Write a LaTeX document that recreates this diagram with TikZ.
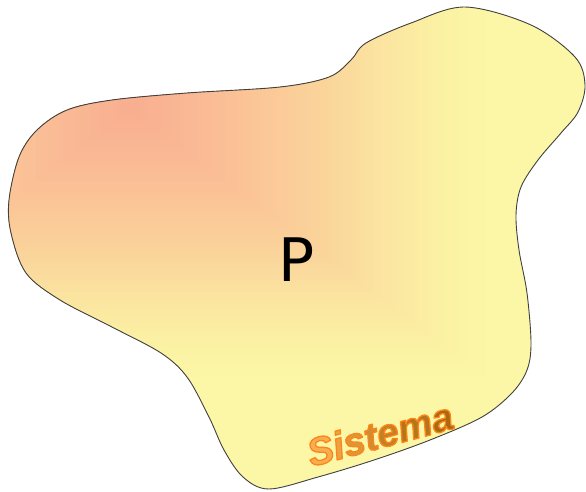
\documentclass[tikz,border=0pt]{standalone}
\usepackage{fontspec}
\newfontfamily\dejavu{DejaVu Sans}
\newfontfamily\libsans{Liberation Sans}
\definecolor{c0}{HTML}{F8AE90}
\definecolor{c1}{HTML}{FABA95}
\definecolor{c2}{HTML}{FBC597}
\definecolor{c3}{HTML}{FAD59B}
\definecolor{c4}{HTML}{FBE4A0}
\definecolor{c5}{HTML}{FBF0A3}
\definecolor{c6}{HTML}{FBF7A6}
\definecolor{edge}{HTML}{404040}
\definecolor{sA}{HTML}{F6AE50}
\definecolor{sB}{HTML}{A86A10}
\newcommand\segset[4]{\def\sega{#1}\def\segb{#2}\def\seglo{#3}\def\seghi{#4}}
\newcommand\gradstep[1]{%
  \ifnum#1>67 \segset{c5}{c6}{68}{80}\else
  \ifnum#1>55 \segset{c4}{c5}{56}{68}\else
  \ifnum#1>43 \segset{c3}{c4}{44}{56}\else
  \ifnum#1>27 \segset{c2}{c3}{28}{44}\else
  \ifnum#1>15 \segset{c1}{c2}{16}{28}\else
  \segset{c0}{c1}{0}{16}\fi\fi\fi\fi\fi
  \pgfmathtruncatemacro\mixp{100*(#1-\seglo)/(\seghi-\seglo)}%
  \colorlet{stepcol}{\segb!\mixp!\sega}}
\newcommand\glowletter[2]{\textcolor{#1}{\special{pdf:literal direct 1 0.52 0.1 RG}#2}}
\newcommand\sistemaword{\special{pdf:literal direct 2 Tr 1.3 w 1 j}%
  \glowletter{sB!0!sA}{S}\glowletter{sB!17!sA}{i}\glowletter{sB!33!sA}{s}%
  \glowletter{sB!50!sA}{t}\glowletter{sB!67!sA}{e}\glowletter{sB!83!sA}{m}%
  \glowletter{sB!100!sA}{a}\special{pdf:literal direct 0 Tr}}
\def\blobpath{plot[smooth cycle, tension=0.55] coordinates {
  (465,7) (531,25) (575,57) (585,85) (578,112) (561,133) (538,160) (521,187)
  (516,215) (519,250) (527,293) (531,343) (527,370) (512,393) (482,417)
  (430,440) (374,460) (318,477) (269,489) (243,477) (224,450) (209,417)
  (187,377) (161,353) (112,327) (60,300) (26,273) (11,233) (9,200)
  (19,157) (37,130) (67,110) (112,100) (187,93) (280,87) (329,77)
  (351,60) (366,43) (411,23)}}
\tikzset{
  blobedge/.style={draw=edge, line width=0.9pt},
  bigletter/.style={font=\dejavu\fontsize{60}{60}\selectfont, text=black, inner sep=0pt},
  sysword/.style={font=\libsans\bfseries\itshape\fontsize{39}{39}\selectfont, rotate=15, inner sep=0pt},
}
\begin{document}
\begin{tikzpicture}[x=1pt,y=-1pt]
\useasboundingbox (0,0) rectangle (586,491);
\begin{scope}
  \clip \blobpath;
  \fill[c6] (0,0) rectangle (586,491);
  \foreach \i in {80,79,...,0} {
    \gradstep{\i}
    \fill[stepcol] ({130-4.5*\i},{110-3.375*\i}) rectangle ({130+4.5*\i},{110+3.375*\i});
  }
\end{scope}
\path[blobedge] \blobpath;
\node[bigletter] (p) at (297,260) {P};
\node[sysword] (sistema) at (380,434) {\sistemaword};
\end{tikzpicture}
\end{document}
